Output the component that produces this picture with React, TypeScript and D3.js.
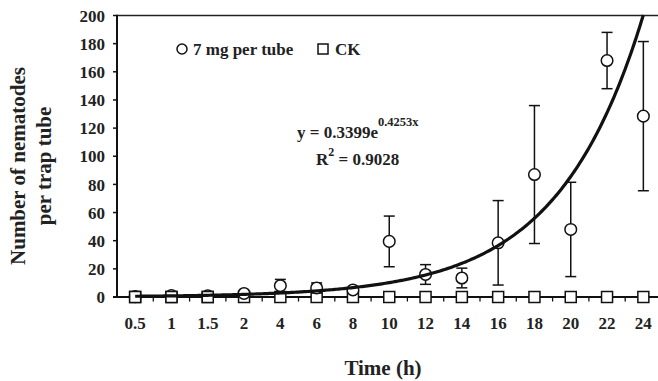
import React, { useRef, useEffect } from "react";
import * as d3 from "d3";

// time points (h), plotted as evenly spaced categories
const times = ["0.5", "1", "1.5", "2", "4", "6", "8", "10", "12", "14", "16", "18", "20", "22", "24"];
// 7 mg per tube: mean and error
const treatMean = [0.3, 1, 0.8, 2.5, 8, 6.4, 5, 39.5, 16, 13.5, 38.5, 87, 48, 168, 128.5];
const treatErr = [0, 0, 0, 0.5, 4.5, 3.6, 1, 18, 7, 7, 30, 49, 33.5, 20, 53];
// CK control
const ckMean = [0, 0, 0, 0, 0, 0, 0, 0, 0, 0, 0, 0, 0, 0, 0];
const yTicks = [0, 20, 40, 60, 80, 100, 120, 140, 160, 180, 200];
// exponential trendline y = a * e^(b x), x = category index (1..15)
const trendA = 0.3399;
const trendB = 0.4253;

const W = 658;
const H = 381;
const FONT = "'Liberation Serif', 'Times New Roman', serif";

const App = () => {
  const svgRef = useRef<SVGSVGElement>(null);

  useEffect(() => {
    const svg = d3.select(svgRef.current);
    svg.selectAll("*").remove();

    const left = 117;
    const top = 15.5;
    const bottom = 297;
    const step = 36.3;

    const x = d3.scaleBand().domain(times).range([left, left + step * times.length]).padding(0);
    const cx = (t: string) => (x(t) as number) + x.bandwidth() / 2;
    const y = d3.scaleLinear().domain([0, 200]).range([bottom, top]);

    const g = svg.append("g").style("font-family", FONT).style("font-weight", "bold");

    // top frame line
    g.append("line")
      .attr("x1", left).attr("x2", W)
      .attr("y1", top).attr("y2", top)
      .attr("stroke", "#222").attr("stroke-width", 1.4);

    // y axis
    g.append("line")
      .attr("x1", left).attr("x2", left)
      .attr("y1", top - 0.7).attr("y2", bottom)
      .attr("stroke", "#111").attr("stroke-width", 2);
    g.selectAll(".ytick")
      .data(yTicks)
      .enter()
      .append("line")
      .attr("x1", left - 4).attr("x2", left)
      .attr("y1", (d) => y(d)).attr("y2", (d) => y(d))
      .attr("stroke", "#111").attr("stroke-width", 1.5);
    g.selectAll(".ylab")
      .data(yTicks)
      .enter()
      .append("text")
      .attr("x", left - 12)
      .attr("y", (d) => y(d))
      .attr("dy", "0.36em")
      .attr("text-anchor", "end")
      .style("font-size", "17px")
      .attr("fill", "#222")
      .text((d) => d);

    // x axis
    g.append("line")
      .attr("x1", left - 4).attr("x2", W)
      .attr("y1", bottom).attr("y2", bottom)
      .attr("stroke", "#111").attr("stroke-width", 2);
    g.selectAll(".xtick")
      .data(times.slice(1))
      .enter()
      .append("line")
      .attr("x1", (d) => x(d) as number).attr("x2", (d) => x(d) as number)
      .attr("y1", bottom).attr("y2", bottom + 4.5)
      .attr("stroke", "#111").attr("stroke-width", 1.3);
    g.selectAll(".xlab")
      .data(times)
      .enter()
      .append("text")
      .attr("x", (d) => cx(d))
      .attr("y", 329)
      .attr("text-anchor", "middle")
      .style("font-size", "17px")
      .attr("fill", "#222")
      .text((d) => d);

    // axis titles
    g.append("text")
      .attr("x", 383).attr("y", 375)
      .attr("text-anchor", "middle")
      .style("font-size", "21px")
      .attr("fill", "#222")
      .text("Time (h)");
    const yt = g.append("text")
      .attr("transform", "translate(0,166) rotate(-90)")
      .attr("text-anchor", "middle")
      .style("font-size", "21px")
      .attr("fill", "#222");
    yt.append("tspan").attr("x", 0).attr("y", 25).text("Number of nematodes");
    yt.append("tspan").attr("x", 0).attr("y", 51).text("per trap tube");

    // CK squares
    g.selectAll(".ck")
      .data(ckMean)
      .enter()
      .append("rect")
      .attr("x", (_d, i) => cx(times[i]) - 5.5)
      .attr("y", (d) => y(d) - 5.5)
      .attr("width", 11).attr("height", 11)
      .attr("fill", "white").attr("stroke", "#111").attr("stroke-width", 1.5);

    // error bars
    const bars = treatMean
      .map((m, i) => ({ t: times[i], lo: Math.max(0, m - treatErr[i]), hi: m + treatErr[i], e: treatErr[i] }))
      .filter((d) => d.e > 0.8);
    g.selectAll(".eb")
      .data(bars)
      .enter()
      .append("line")
      .attr("x1", (d) => cx(d.t)).attr("x2", (d) => cx(d.t))
      .attr("y1", (d) => y(d.lo)).attr("y2", (d) => y(d.hi))
      .attr("stroke", "#111").attr("stroke-width", 1.5);
    g.selectAll(".cap")
      .data(bars.flatMap((d) => [{ t: d.t, v: d.hi }, { t: d.t, v: d.lo }]))
      .enter()
      .append("line")
      .attr("x1", (d) => cx(d.t) - 5.5).attr("x2", (d) => cx(d.t) + 5.5)
      .attr("y1", (d) => y(d.v)).attr("y2", (d) => y(d.v))
      .attr("stroke", "#111").attr("stroke-width", 1.5);

    // treatment circles
    g.selectAll(".pt")
      .data(treatMean)
      .enter()
      .append("circle")
      .attr("cx", (_d, i) => cx(times[i]))
      .attr("cy", (d) => y(d))
      .attr("r", 5.8)
      .attr("fill", "white").attr("stroke", "#111").attr("stroke-width", 1.5);

    // CK squares at zero sit on top of the low circles
    g.selectAll(".ck2")
      .data(ckMean.slice(0, 3))
      .enter()
      .append("rect")
      .attr("x", (_d, i) => cx(times[i]) - 5.5)
      .attr("y", (d) => y(d) - 5.5)
      .attr("width", 11).attr("height", 11)
      .attr("fill", "white").attr("stroke", "#111").attr("stroke-width", 1.5);

    // trendline
    const xi = d3.scaleLinear().domain([1, times.length]).range([cx(times[0]), cx(times[times.length - 1])]);
    const pts = d3.range(1, times.length + 0.001, 0.05).map((v) => [v, trendA * Math.exp(trendB * v)]);
    g.append("path")
      .datum(pts)
      .attr("d", d3.line<number[]>().x((d) => xi(d[0])).y((d) => y(d[1])))
      .attr("fill", "none").attr("stroke", "#111").attr("stroke-width", 3.2);

    // legend
    g.append("circle").attr("cx", 182).attr("cy", 49).attr("r", 5)
      .attr("fill", "white").attr("stroke", "#111").attr("stroke-width", 1.5);
    g.append("text").attr("x", 193).attr("y", 54.5).style("font-size", "17px").attr("fill", "#222")
      .text("7 mg per tube");
    g.append("rect").attr("x", 318).attr("y", 44).attr("width", 10).attr("height", 10)
      .attr("fill", "white").attr("stroke", "#111").attr("stroke-width", 1.5);
    g.append("text").attr("x", 335).attr("y", 54.5).style("font-size", "17px").attr("fill", "#222")
      .text("CK");

    // equation
    const eq = g.append("text").attr("x", 297).attr("y", 138).style("font-size", "17px").attr("fill", "#222");
    eq.append("tspan").text("y = 0.3399e");
    eq.append("tspan").attr("dy", -12).style("font-size", "12.5px").text("0.4253x");
    const r2 = g.append("text").attr("x", 316).attr("y", 165).style("font-size", "17px").attr("fill", "#222");
    r2.append("tspan").text("R");
    r2.append("tspan").attr("dy", -9).style("font-size", "12px").text("2");
    r2.append("tspan").attr("dy", 9).text(" = 0.9028");
  }, []);

  return (
    <svg
      ref={svgRef}
      width={W}
      height={H}
      style={{ position: "absolute", left: 0, top: 0, background: "white" }}
    />
  );
};

export default App;
